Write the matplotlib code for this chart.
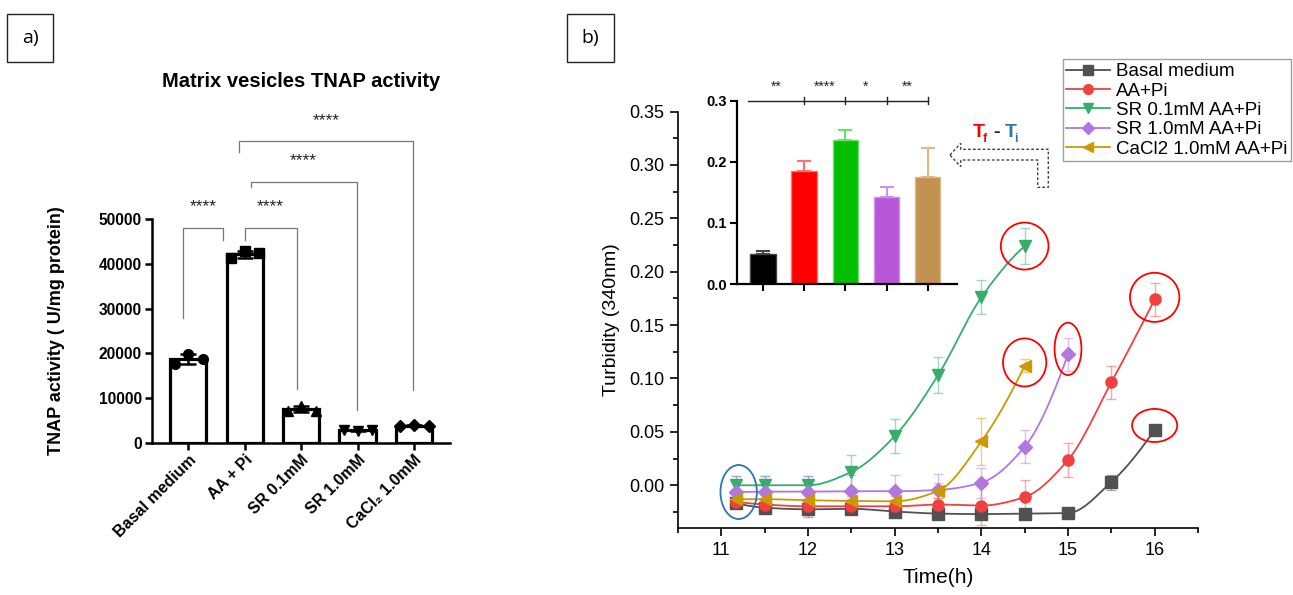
import numpy as np
import matplotlib
matplotlib.use("Agg")
import matplotlib.pyplot as plt
from matplotlib.patches import Ellipse, Polygon, Rectangle
from matplotlib.lines import Line2D

plt.rcParams['font.family'] = ['Liberation Sans', 'DejaVu Sans']

# ---------------- Panel a data ----------------
a_categories = ["Basal medium", "AA + Pi", "SR 0.1mM", "SR 1.0mM", "CaCl\u2082 1.0mM"]
a_means = [18700, 42170, 7530, 2830, 3800]
a_points = [[17600, 19850, 18700],
            [41250, 42900, 42370],
            [7100, 8300, 7200],
            [2900, 2700, 2900],
            [3700, 3900, 3800]]
a_markers = ['o', 's', '^', 'v', 'D']
a_yticks = [0, 10000, 20000, 30000, 40000, 50000]
a_sig = ["****", "****", "****", "****"]

# ---------------- Panel b data ----------------
t_long = [11.17, 11.5, 12, 12.5, 13, 13.5, 14, 14.5, 15, 15.5, 16]
t_basal = t_long
t_aa = t_long
t_sr01 = t_long[:8]
t_sr10 = t_long[:9]
t_cacl = t_long[:8]

basal = [-0.017, -0.021, -0.0225, -0.022, -0.0246, -0.0265, -0.027, -0.0265, -0.026, 0.003, 0.052]
basal_err = [0.004, 0.004, 0.007, 0.004, 0.004, 0.004, 0.003, 0.003, 0.003, 0.007, 0.003]
aapi = [-0.0156, -0.018, -0.0197, -0.0197, -0.0197, -0.018, -0.019, -0.011, 0.0237, 0.0964, 0.174]
aapi_err = [0.005, 0.005, 0.006, 0.005, 0.004, 0.006, 0.0185, 0.016, 0.0155, 0.0153, 0.0157]
sr01 = [0.000, 0.000, 0.000, 0.0125, 0.046, 0.103, 0.176, 0.224]
sr01_err = [0.009, 0.009, 0.009, 0.016, 0.016, 0.017, 0.016, 0.017]
sr10 = [-0.0063, -0.006, -0.006, -0.0056, -0.0056, -0.0044, 0.0025, 0.036, 0.1227]
sr10_err = [0.015, 0.015, 0.015, 0.015, 0.015, 0.015, 0.014, 0.0155, 0.0155]
cacl = [-0.013, -0.013, -0.014, -0.0147, -0.015, -0.0053, 0.041, 0.112]
cacl_err = [0.005, 0.005, 0.005, 0.005, 0.005, 0.007, 0.022, 0.006]

b_labels = ["Basal medium", "AA+Pi", "SR 0.1mM AA+Pi", "SR 1.0mM AA+Pi", "CaCl2 1.0mM AA+Pi"]
b_colors = ["#515151", "#F14040", "#37AD6B", "#B177DE", "#CC9900"]
b_markers = ['s', 'o', 'v', 'D', '<']

# inset (Tf - Ti)
inset_values = [0.049, 0.185, 0.235, 0.142, 0.175]
inset_err = [0.005, 0.017, 0.0175, 0.0165, 0.0475]
inset_colors = ["#000000", "#FF0000", "#00BF00", "#B856D8", "#C39250"]
inset_edge = ["#444444", "#FF7070", "#70DD70", "#D090EA", "#DDB888"]
inset_sig = ["**", "****", "*", "**"]


def pchip(x, y, xn):
    x = np.asarray(x, float); y = np.asarray(y, float)
    h = np.diff(x); d = np.diff(y) / h
    n = len(x); m = np.zeros(n)
    for k in range(1, n - 1):
        if d[k - 1] * d[k] > 0:
            w1 = 2 * h[k] + h[k - 1]; w2 = h[k] + 2 * h[k - 1]
            m[k] = (w1 + w2) / (w1 / d[k - 1] + w2 / d[k])
    def endm(h0, h1, d0, d1):
        v = ((2 * h0 + h1) * d0 - h0 * d1) / (h0 + h1)
        if np.sign(v) != np.sign(d0):
            v = 0.0
        elif np.sign(d0) != np.sign(d1) and abs(v) > abs(3 * d0):
            v = 3 * d0
        return v
    m[0] = endm(h[0], h[1], d[0], d[1])
    m[-1] = endm(h[-1], h[-2], d[-1], d[-2])
    idx = np.clip(np.searchsorted(x, xn) - 1, 0, n - 2)
    hh = h[idx]; s = (xn - x[idx]) / hh
    h00 = 2 * s**3 - 3 * s**2 + 1; h10 = s**3 - 2 * s**2 + s
    h01 = -2 * s**3 + 3 * s**2; h11 = s**3 - s**2
    return h00 * y[idx] + h10 * hh * m[idx] + h01 * y[idx + 1] + h11 * hh * m[idx + 1]


W, H = 1293, 595
fig = plt.figure(figsize=(W / 100, H / 100), dpi=100)


def fx(px):
    return px / W


def fy(py):
    return 1 - py / H


# ================= Panel a =================
axa_l, axa_r = 151.7, 450
axa = fig.add_axes([fx(axa_l), fy(442.7), fx(axa_r) - fx(axa_l), fy(219.3) - fy(442.7)])
xa = np.arange(len(a_categories))
axa.bar(xa, a_means, width=0.64, color='white', edgecolor='black', linewidth=2.3, zorder=2)
offs = [-0.24, 0.0, 0.26]
for i, pts in enumerate(a_points):
    sd = np.std(pts, ddof=1)
    axa.errorbar(xa[i], a_means[i], yerr=sd, color='black', capsize=6, elinewidth=1.8,
                 capthick=1.8, zorder=3, clip_on=False)
    axa.plot(xa[i] + np.array(offs), pts, linestyle='none', marker=a_markers[i],
             markersize=7 if a_markers[i] != 'D' else 6, color='black', zorder=4, clip_on=False)
axa.set_xlim(-0.65, 4.64)
axa.set_ylim(0, 50000)
axa.set_yticks(a_yticks)
axa.set_xticks(xa)
axa.set_xticklabels(a_categories, rotation=45, ha='right', rotation_mode='anchor',
                    fontsize=11.5, fontweight='bold')
for lab in axa.get_yticklabels():
    lab.set_fontweight('bold'); lab.set_fontsize(11.2)
axa.tick_params(axis='both', length=5, width=1.8, direction='out', pad=2)
for s in ['top', 'right']:
    axa.spines[s].set_visible(False)
for s in ['left', 'bottom']:
    axa.spines[s].set_linewidth(1.8)
axa.set_ylabel("TNAP activity ( U/mg protein)", fontsize=13, fontweight='bold')
axa.yaxis.set_label_coords(-(axa_l - 65) / (axa_r - axa_l), 0.5)
fig.text(fx(300.8), fy(81.7), "Matrix vesicles TNAP activity", ha='center', va='center',
         fontsize=14.5, fontweight='bold')

brackets = [(-0.09, 0.62, 47960, 27830, 45350, 0.26, 52800),
            (1.0, 1.92, 47960, 45350, 11950, 1.46, 52800),
            (1.11, 2.99, 58390, 57270, 7320, 2.04, 63090),
            (0.90, 3.98, 67560, 65100, 11790, 2.44, 72040)]
for (x1, x2, yt, yl, yr, sx, sy), st in zip(brackets, a_sig):
    axa.plot([x1, x1, x2, x2], [yl, yt, yt, yr], color='#777777', lw=0.9, clip_on=False, zorder=1)
    axa.text(sx, sy, st, ha='center', va='center', fontsize=12.5, color='#222222')

# ================= Panel b main =================
bl, br, bb, bt = 678, 1198, 528, 111.5
axb = fig.add_axes([fx(bl), fy(bb), fx(br) - fx(bl), fy(bt) - fy(bb)])
series = [(t_basal, basal, basal_err), (t_aa, aapi, aapi_err), (t_sr01, sr01, sr01_err),
          (t_sr10, sr10, sr10_err), (t_cacl, cacl, cacl_err)]
handles = []
for (t, v, e), c, mk, lab in zip(series, b_colors, b_markers, b_labels):
    tt = np.linspace(t[0], t[-1], 300)
    ms = 8 if mk != 'D' else 7
    axb.plot(tt, pchip(t, v, tt), color=c, lw=1.3, zorder=2)
    axb.errorbar(t, v, yerr=e, fmt='none', ecolor=c, alpha=0.45, capsize=3.5, elinewidth=1, zorder=2)
    axb.plot(t, v, linestyle='none', marker=mk, color=c, markersize=ms, zorder=3)
    handles.append(Line2D([], [], color=c, lw=1.3, marker=mk, markersize=ms - 1, label=lab))
axb.set_xlim(10.5, 16.5)
axb.set_ylim(-0.04, 0.35)
axb.set_xticks([11, 12, 13, 14, 15, 16])
axb.set_xticks(np.arange(10.5, 16.6, 0.5), minor=True)
axb.set_yticks([0.0, 0.05, 0.10, 0.15, 0.20, 0.25, 0.30, 0.35])
axb.set_yticklabels(["0.00", "0.05", "0.10", "0.15", "0.20", "0.25", "0.30", "0.35"])
axb.set_yticks(np.arange(-0.025, 0.35, 0.05), minor=True)
axb.tick_params(axis='both', which='major', length=6, width=1.2, labelsize=13, pad=4)
axb.tick_params(axis='both', which='minor', length=3.5, width=1.2)
for s in ['top', 'right']:
    axb.spines[s].set_visible(False)
for s in ['left', 'bottom']:
    axb.spines[s].set_linewidth(1.2)
axb.set_xlabel("Time(h)", fontsize=15)
axb.xaxis.set_label_coords(0.5, -(568 - bb) / (bb - bt))
axb.set_ylabel("Turbidity (340nm)", fontsize=14)
axb.yaxis.set_label_coords(-(bl - 620) / (br - bl), 0.5)

# ellipses around points (annotations)
ell_specs = [(t_sr01[-1], sr01[-1], 0.55, 0.044),
             (t_cacl[-1], cacl[-1] + 0.003, 0.50, 0.045),
             (t_sr10[-1], sr10[-1] + 0.005, 0.31, 0.049),
             (t_aa[-1], aapi[-1] + 0.002, 0.57, 0.046),
             (t_basal[-1], basal[-1] + 0.004, 0.52, 0.031)]
for cx, cy, w, h in ell_specs:
    axb.add_patch(Ellipse((cx, cy), w, h, fill=False, edgecolor='#FF0000', lw=1.3, zorder=4,
                          clip_on=False))
axb.add_patch(Ellipse((t_long[0] + 0.03, -0.0063), 0.42, 0.0506, fill=False, edgecolor='#2E75B6',
                      lw=1.3, zorder=4))

leg = axb.legend(handles=handles, loc='upper left', bbox_to_anchor=(fx(1062.7), fy(59.3)),
                 bbox_transform=fig.transFigure, fontsize=13.5, frameon=True, fancybox=False,
                 handlelength=2.3, handletextpad=0.35, labelspacing=0.12, borderpad=0.2,
                 borderaxespad=0)
leg.get_frame().set_edgecolor('#888888')
leg.get_frame().set_linewidth(1.0)

# ================= Inset =================
axi = fig.add_axes([fx(736.7), fy(284), fx(956.7) - fx(736.7), fy(100.7) - fy(284)])
axi.patch.set_alpha(0)
xi = np.arange(len(inset_values))
axi.bar(xi, inset_values, width=0.63, color=inset_colors, edgecolor=inset_edge, linewidth=1, zorder=2)
for i in range(len(xi)):
    axi.errorbar(xi[i], inset_values[i], yerr=[[0], [inset_err[i]]], color=inset_edge[i],
                 capsize=5, elinewidth=1.5, capthick=1.5, zorder=1)
axi.set_xlim(-0.65, 4.71)
axi.set_ylim(0, 0.3)
axi.set_yticks([0.0, 0.1, 0.2, 0.3])
axi.set_yticklabels(["0.0", "0.1", "0.2", "0.3"])
axi.set_xticks(xi)
axi.set_xticklabels([])
axi.tick_params(axis='both', length=5, width=1.5, pad=2)
for lab in axi.get_yticklabels():
    lab.set_fontweight('bold'); lab.set_fontsize(10.5)
for s in ['top', 'right']:
    axi.spines[s].set_visible(False)
for s in ['left', 'bottom']:
    axi.spines[s].set_linewidth(1.6)
axi.plot([-0.38, 4], [0.3, 0.3], color='#222222', lw=1, clip_on=False)
for k in range(1, 5):
    axi.plot([k, k], [0.2943, 0.3057], color='#222222', lw=1, clip_on=False)
sig_x = [0.31, 1.5, 2.5, 3.5]
for sx, st in zip(sig_x, inset_sig):
    axi.text(sx, 0.322, st, ha='center', va='center', fontsize=10, color='#222222')

# ================= Tf - Ti annotation & dashed arrow =================
fig.text(fx(972.7), fy(136.7), "T", color='#FF0000', fontsize=14, fontweight='bold', ha='left', va='baseline')
fig.text(fx(982.5), fy(141.5), "f", color='#FF0000', fontsize=9, fontweight='bold', ha='left', va='baseline')
fig.text(fx(997), fy(136.7), "-", color='#222222', fontsize=14, fontweight='bold', ha='center', va='baseline')
fig.text(fx(1004.5), fy(136.7), "T", color='#2E75B6', fontsize=14, fontweight='bold', ha='left', va='baseline')
fig.text(fx(1014.5), fy(141.5), "i", color='#2E75B6', fontsize=9, fontweight='bold', ha='left', va='baseline')

arrow_px = [(950, 155), (960.7, 143.3), (960.7, 149.3), (1048.3, 149.3), (1048.3, 187.3),
            (1037.7, 187.3), (1037.7, 160), (960.7, 160), (960.7, 166.7)]
fig.patches.append(Polygon([(fx(x), fy(y)) for x, y in arrow_px], closed=True, fill=False,
                           edgecolor='#444444', lw=1, linestyle=(0, (2, 1.5)),
                           transform=fig.transFigure, figure=fig))

# ================= Panel labels =================
for (x0, y0, x1, y1, lab) in [(7, 14, 53, 62, "a)"), (567, 14, 614, 62, "b)")]:
    fig.patches.append(Rectangle((fx(x0), fy(y1)), fx(x1) - fx(x0), fy(y0) - fy(y1), fill=False,
                                 edgecolor='#222222', lw=1, transform=fig.transFigure, figure=fig))
    fig.text(fx((x0 + x1) / 2), fy((y0 + y1) / 2), lab, ha='center', va='center', fontsize=14,
             family=['Open Sans', 'DejaVu Sans'])

fig.savefig("out.png", dpi=100)
